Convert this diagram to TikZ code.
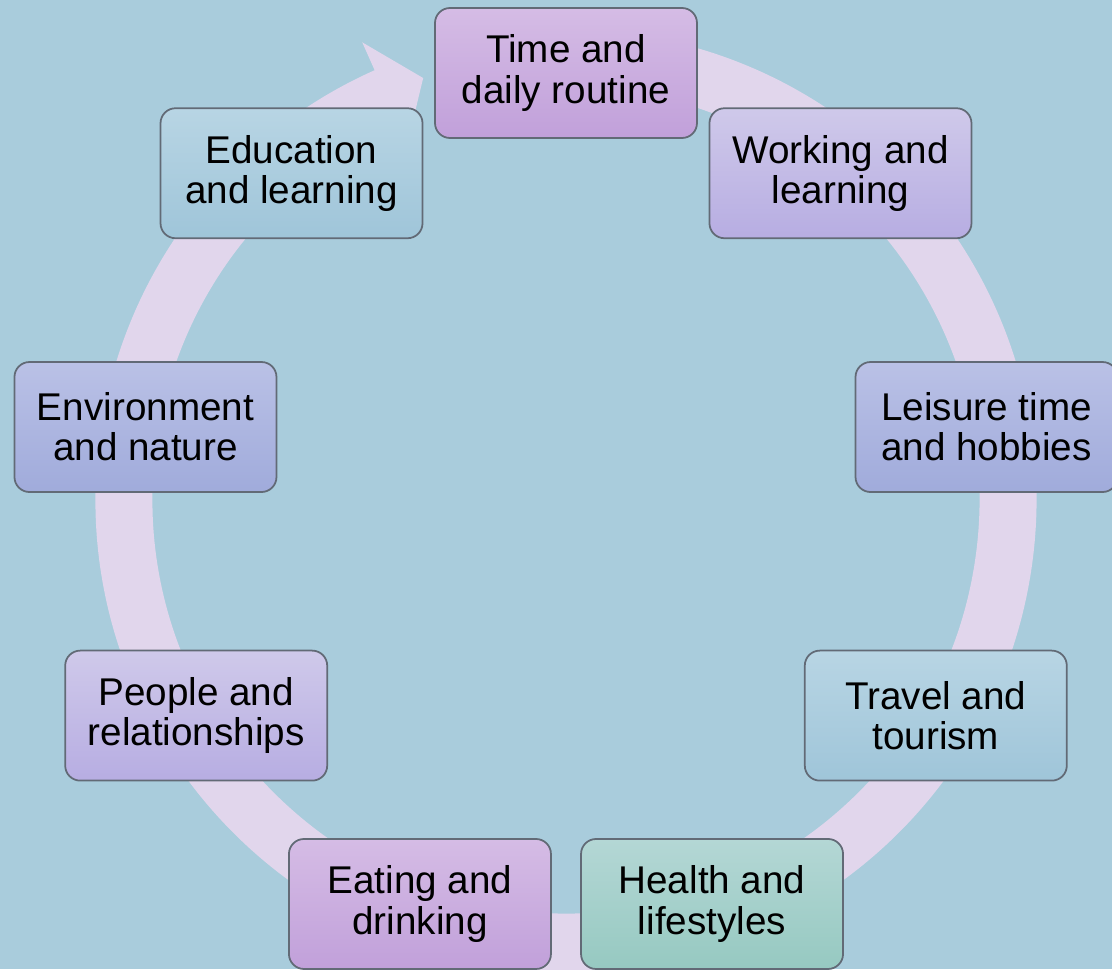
\documentclass[tikz,border=0pt]{standalone}
\usepackage{fontspec}
\setmainfont{Liberation Sans}

\definecolor{bgblue}{RGB}{169,204,220}
\definecolor{ringlilac}{RGB}{225,214,236}
\definecolor{boxedge}{RGB}{98,106,118}
\definecolor{mauvetop}{RGB}{213,188,229}
\definecolor{mauvebot}{RGB}{193,160,218}
\definecolor{lavtop}{RGB}{207,201,234}
\definecolor{lavbot}{RGB}{183,173,226}
\definecolor{peritop}{RGB}{186,193,230}
\definecolor{peribot}{RGB}{160,171,219}
\definecolor{skytop}{RGB}{184,213,228}
\definecolor{skybot}{RGB}{159,197,217}
\definecolor{tealtop}{RGB}{180,215,213}
\definecolor{tealbot}{RGB}{150,201,193}

\tikzset{
  topic/.style={rectangle, draw=boxedge, line width=0.5pt, rounded corners=0.15cm,
    minimum width=2.62cm, minimum height=1.30cm, inner sep=0pt, align=center,
    font=\fontsize{11}{11.4}\selectfont},
  mauvebox/.style={topic, top color=mauvetop, bottom color=mauvebot},
  lavbox/.style={topic, top color=lavtop, bottom color=lavbot},
  peribox/.style={topic, top color=peritop, bottom color=peribot},
  skybox/.style={topic, top color=skytop, bottom color=skybot},
  tealbox/.style={topic, top color=tealtop, bottom color=tealbot}
}

\begin{document}
\begin{tikzpicture}
    % 背景
    \clip (-5.66,-4.69) rectangle (5.46,5.00);
    \fill[bgblue] (-5.66,-4.69) rectangle (5.46,5.00);

    % 円環の矢印
    \draw[ringlilac, line width=0.57cm] (80:4.42) arc[start angle=80, end angle=-246.3, radius=4.42cm];
    \fill[ringlilac] (114:5.01) -- (108.7:4.455) -- (114:3.90) -- cycle;

    % ノード
    \begin{scope}[yshift=-0.14mm]
    \node[mauvebox] (time) at (90:4.27cm and 4.284cm) {Time and\\daily routine};
    \node[lavbox] (work) at (50:4.27cm and 4.284cm) {Working and\\learning};
    \node[peribox] (leisure) at (10:4.27cm and 4.284cm) {Leisure time\\and hobbies};
    \node[skybox] (travel) at (-30:4.27cm and 4.284cm) {Travel and\\tourism};
    \node[tealbox] (health) at (-70:4.27cm and 4.284cm) {Health and\\lifestyles};
    \node[mauvebox] (eating) at (-110:4.27cm and 4.284cm) {Eating and\\drinking};
    \node[lavbox] (people) at (-150:4.27cm and 4.284cm) {People and\\relationships};
    \node[peribox] (environment) at (170:4.27cm and 4.284cm) {Environment\\and nature};
    \node[skybox] (education) at (130:4.27cm and 4.284cm) {Education\\and learning};
    \end{scope}
\end{tikzpicture}
\end{document}
